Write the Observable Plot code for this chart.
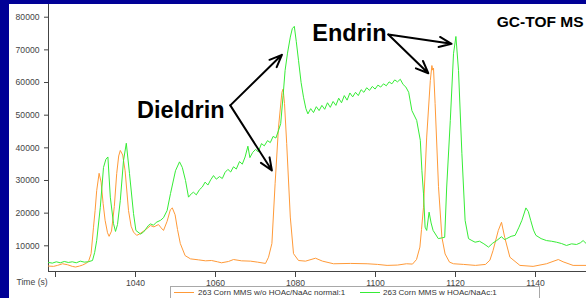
<!DOCTYPE html>
<html>
<head>
<meta charset="utf-8">
<script src="https://cdn.jsdelivr.net/npm/d3@7"></script>
<script src="https://cdn.jsdelivr.net/npm/@observablehq/plot@0.6"></script>
<style>
  html, body { margin: 0; padding: 0; }
  body { width: 586px; height: 298px; overflow: hidden; position: relative; background: #000096; }
  #panel { position: absolute; left: 9px; top: 4px; right: 0; bottom: 0; background: #ffffff; }
  #chart { position: absolute; left: 0; top: 0; }
  #legend { position: absolute; left: 170px; top: 286px; width: 368px; height: 16px; border: 1px solid #a8a8a8; background: #fff;
    font-family: "Liberation Sans", Arial, sans-serif; font-size: 8px; color: #333; }
  #legend .sw { position: absolute; top: 5px; width: 20px; height: 0; border-top: 1px solid; }
  #legend .lb { position: absolute; top: 0px; line-height: 11px; white-space: nowrap; }
</style>
</head>
<body>
<div id="panel"></div>
<div id="chart"></div>
<div id="legend"></div>
<script>
// ---- Data ----
const seriesNames = ["263 Corn MMS w/o HOAc/NaAc normal:1", "263 Corn MMS w HOAc/NaAc:1"];
const seriesColors = ["#ff9a38", "#36ec36"];

const orangeTime = [1018.25, 1019.5, 1020.5, 1021.75, 1023, 1024.2, 1025, 1026, 1026.75, 1027.6, 1028.25, 1028.9, 1029.5, 1029.9, 1030.3, 1030.9, 1031.4, 1031.9, 1032.4, 1033, 1033.4, 1034, 1034.7, 1035.3, 1035.8, 1036.2, 1036.8, 1037.4, 1038.25, 1038.9, 1039.5, 1040.3, 1041, 1042, 1043, 1043.75, 1044.6, 1045.75, 1046.4, 1047, 1047.9, 1048.7, 1049.2, 1049.9, 1050.5, 1051.2, 1052.4, 1053.75, 1055.75, 1057.5, 1059, 1060.5, 1061.5, 1063.25, 1064.5, 1066.5, 1068.75, 1070.5, 1072.5, 1073.25, 1074.1, 1074.9, 1075.75, 1076.6, 1076.9, 1077.25, 1077.8, 1078.7, 1079.5, 1080.75, 1082.5, 1085, 1086.75, 1089.5, 1093.75, 1097.9, 1100.5, 1102.9, 1105.5, 1107.75, 1109.25, 1110.25, 1111.1, 1111.5, 1112, 1112.8, 1113.7, 1114.1, 1114.3, 1114.5, 1114.9, 1115.75, 1116.6, 1117.4, 1118.5, 1119.5, 1122, 1125, 1127.5, 1128.6, 1129.4, 1130.7, 1131.5, 1132.3, 1133.6, 1136.1, 1139.4, 1142.75, 1145.7, 1146.9, 1149.4, 1152.75];
const orangeValue = [3800, 3700, 4000, 4500, 4200, 3700, 3500, 3800, 4100, 4600, 5200, 7600, 15700, 20800, 26900, 32200, 29500, 23000, 17800, 14000, 12900, 14500, 22000, 32100, 37500, 39200, 37800, 33000, 20800, 16000, 14200, 13200, 13600, 14500, 15400, 16200, 15800, 16500, 15500, 14700, 17500, 21000, 21600, 19500, 15000, 10700, 7000, 6000, 5700, 5400, 5500, 5100, 4800, 5200, 5800, 5400, 5300, 5000, 4600, 6500, 10700, 29000, 46300, 57000, 58000, 53600, 41300, 18800, 7600, 5500, 5300, 6200, 5300, 4500, 4600, 4500, 4300, 4000, 4100, 4500, 4400, 5800, 9600, 15000, 21800, 43300, 60600, 65200, 63800, 64400, 53600, 28100, 12600, 7500, 5000, 4500, 4300, 4000, 4300, 5600, 8600, 14700, 17200, 12600, 6500, 4000, 3700, 4500, 5800, 5100, 4000, 4000];

const greenTime = [1018.25, 1019.2, 1020.2, 1021.2, 1022.2, 1023.2, 1024.2, 1025.2, 1026.2, 1027.2, 1028.2, 1029.25, 1029.8, 1030.3, 1031.2, 1032, 1032.6, 1033.1, 1033.7, 1034.5, 1035, 1035.5, 1036.2, 1037, 1037.7, 1038.5, 1039.5, 1040.1, 1041.25, 1042, 1042.5, 1043.2, 1043.75, 1044.5, 1045.2, 1046.25, 1047, 1047.9, 1048.75, 1050, 1051, 1051.7, 1052.5, 1053.25, 1054, 1054.5, 1055.2, 1056, 1056.7, 1057.4, 1058.1, 1058.8, 1059.5, 1060.2, 1061, 1061.7, 1062.4, 1063.1, 1063.8, 1064.5, 1065.2, 1066, 1066.7, 1067.4, 1068.1, 1068.6, 1069.3, 1070, 1070.7, 1071.5, 1072.2, 1073, 1073.7, 1074.4, 1075.1, 1075.8, 1076.3, 1076.9, 1077.4, 1078, 1078.7, 1079.2, 1079.7, 1080.2, 1080.75, 1081.4, 1082, 1082.6, 1083.1, 1083.8, 1084.5, 1085.2, 1085.9, 1086.6, 1087.3, 1088, 1088.7, 1089.4, 1090.1, 1090.8, 1091.5, 1092.2, 1092.9, 1093.6, 1094.3, 1095, 1095.7, 1096.4, 1097.1, 1097.8, 1098.5, 1099.2, 1099.9, 1100.6, 1101.3, 1102, 1102.7, 1103.4, 1104.1, 1104.8, 1105.5, 1106.2, 1106.9, 1107.6, 1108.3, 1109.1, 1110.3, 1111.2, 1111.6, 1112, 1112.4, 1112.8, 1113.4, 1113.9, 1114.4, 1115.7, 1116.5, 1117.3, 1117.8, 1118.7, 1119.5, 1120.1, 1120.75, 1121.6, 1122.4, 1123.25, 1124.1, 1124.9, 1126, 1127.1, 1128.25, 1129.3, 1130.3, 1131.5, 1132.2, 1132.8, 1133.9, 1134.9, 1135.8, 1136.6, 1137.6, 1138.2, 1138.8, 1139.5, 1140.1, 1141.4, 1142.75, 1144, 1145.25, 1146.5, 1147.75, 1149, 1150.25, 1151.2, 1151.9, 1152.75];
const greenValue = [4900, 4700, 5100, 4800, 5200, 4900, 5100, 4800, 5300, 5000, 5100, 5500, 8000, 11600, 21800, 34000, 36500, 37200, 24900, 16800, 14400, 16500, 23900, 36100, 41400, 32100, 19900, 14700, 13600, 14200, 15000, 16200, 16700, 16300, 17200, 17800, 18600, 20800, 26000, 33000, 35700, 34000, 30000, 24900, 26000, 26400, 25600, 27200, 28000, 29500, 28600, 30200, 31500, 30400, 31200, 30600, 32500, 33400, 32600, 34200, 33500, 35800, 35000, 37200, 40500, 37000, 38600, 39500, 38800, 41300, 40600, 42200, 41600, 43500, 43000, 45500, 47400, 56000, 63700, 69000, 73900, 76500, 77200, 72500, 66800, 60000, 55500, 52000, 50400, 52000, 50800, 52600, 51400, 53000, 51800, 53800, 52400, 54200, 53000, 55200, 53800, 56000, 54600, 56800, 55600, 57000, 56000, 57800, 57000, 58400, 57600, 58800, 58000, 59200, 58600, 59600, 59000, 60200, 59600, 60800, 60200, 61000, 59400, 58600, 57000, 51400, 48400, 42300, 33000, 25900, 15700, 14700, 20300, 17000, 14700, 12200, 12400, 12600, 28000, 48400, 68800, 74100, 63700, 38200, 17800, 12200, 11600, 11100, 11400, 10600, 9600, 10800, 11600, 12800, 11900, 12200, 12900, 13200, 15500, 17800, 21600, 20500, 17800, 14800, 13200, 12200, 11600, 11400, 11100, 10700, 10100, 10600, 10400, 10900, 11600, 10600];

const xTicks = [1020, 1040, 1060, 1080, 1100, 1120, 1140];
const yTicks = [10000, 20000, 30000, 40000, 50000, 60000, 70000, 80000];

// Annotations (in data coordinates)
const labelTexts = ["Dieldrin", "Endrin"];
const labelTime = [1040.4, 1084.2];
const labelValue = [51550, 75000];
const arrowFromTime = [1063.7, 1063.7, 1103.2, 1103.2];
const arrowFromValue = [52990, 52990, 74700, 74700];
const arrowToTime = [1076.6, 1074.1, 1119.0, 1113.2];
const arrowToValue = [68480, 33060, 71850, 62850];
const titleText = "GC-TOF MS";

// ---- Build tables ----
const orange = orangeTime.map((t, i) => ({t, v: orangeValue[i]}));
const green = greenTime.map((t, i) => ({t, v: greenValue[i]}));
const labels = labelTexts.map((s, i) => ({s, t: labelTime[i], v: labelValue[i]}));
const arrows = arrowFromTime.map((t, i) => ({t1: t, v1: arrowFromValue[i], t2: arrowToTime[i], v2: arrowToValue[i]}));

const chart = Plot.plot({
  width: 586,
  height: 287,
  marginLeft: 48,
  marginRight: 0,
  marginTop: 4,
  marginBottom: 16,
  style: {background: "transparent", overflow: "visible", fontFamily: "'Liberation Sans', Arial, sans-serif", fontSize: "8.6px", color: "#444"},
  x: {domain: [1018.25, 1152.75], ticks: xTicks, tickFormat: d => d === 1020 ? "" : String(d), tickSize: 6, tickPadding: 2, line: true, label: null},
  y: {domain: [2131, 83890], ticks: yTicks, tickFormat: d => String(d), tickSize: 4, tickPadding: 5, line: true, label: null},
  marks: [
    Plot.line(orange, {x: "t", y: "v", stroke: seriesColors[0], strokeWidth: 1}),
    Plot.line(green, {x: "t", y: "v", stroke: seriesColors[1], strokeWidth: 1}),
    Plot.arrow(arrows, {x1: "t1", y1: "v1", x2: "t2", y2: "v2", stroke: "#000", strokeWidth: 2, headLength: 10, headAngle: 45}),
    Plot.text(labels, {x: "t", y: "v", text: "s", textAnchor: "start", lineAnchor: "middle", fontSize: 23.5, fontWeight: "bold", fill: "#000"}),
    Plot.text([titleText], {frameAnchor: "top-right", dx: -3, dy: 17.5, text: d => d, textAnchor: "end", lineAnchor: "middle", fontSize: 15.5, fontWeight: "bold", fill: "#000"}),
    Plot.text(["Time (s)"], {frameAnchor: "bottom-left", dx: -32, dy: 11, text: d => d, textAnchor: "start", lineAnchor: "middle", fontSize: 8.6, fill: "#444"})
  ]
});
document.getElementById("chart").appendChild(chart);

// Legend (below / at the bottom of the chart)
const legend = document.getElementById("legend");
const swLeft = [3, 189];
const lbLeft = [27, 212];
seriesNames.forEach((name, i) => {
  const sw = document.createElement("div");
  sw.className = "sw";
  sw.style.left = swLeft[i] + "px";
  sw.style.borderTopColor = seriesColors[i];
  legend.appendChild(sw);
  const lb = document.createElement("div");
  lb.className = "lb";
  lb.style.left = lbLeft[i] + "px";
  lb.textContent = name;
  legend.appendChild(lb);
});
</script>
</body>
</html>
